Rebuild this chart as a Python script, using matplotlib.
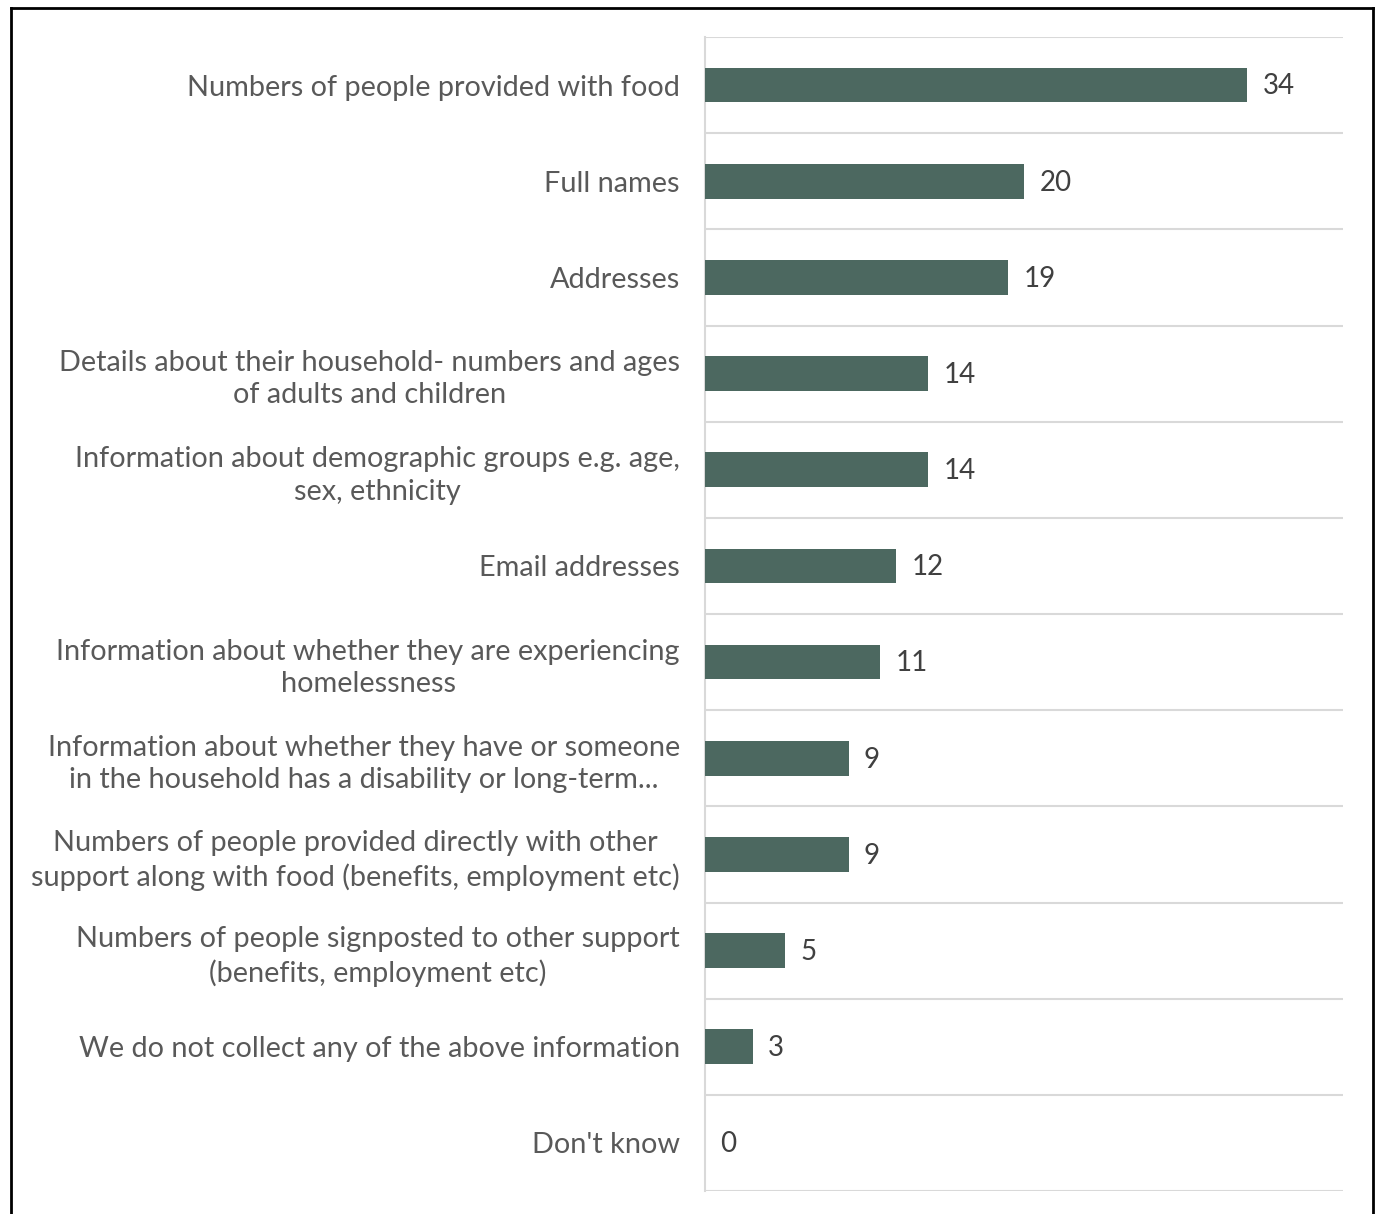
import matplotlib
matplotlib.use("Agg")
import matplotlib.pyplot as plt
from matplotlib.lines import Line2D

categories = [
    "Numbers of people provided with food",
    "Full names",
    "Addresses",
    "Details about their household- numbers and ages\nof adults and children",
    "Information about demographic groups e.g. age,\nsex, ethnicity",
    "Email addresses",
    "Information about whether they are experiencing\nhomelessness",
    "Information about whether they have or someone\nin the household has a disability or long-term...",
    "Numbers of people provided directly with other\nsupport along with food (benefits, employment etc)",
    "Numbers of people signposted to other support\n(benefits, employment etc)",
    "We do not collect any of the above information",
    "Don't know",
]
values = [34, 20, 19, 14, 14, 12, 11, 9, 9, 5, 3, 0]

plt.rcParams['font.family'] = ['Lato', 'DejaVu Sans']

fig = plt.figure(figsize=(13.81, 12.14), dpi=100)
ax = fig.add_axes([705/1381, 1 - 1191/1214, (1343-705)/1381, (1191-37)/1214])

n = len(categories)
ypos = list(range(n))
ax.barh(ypos, values, height=0.36, color="#4c6860", zorder=3)
ax.set_ylim(n - 0.5, -0.5)
ax.set_xlim(0, 40)

# separators between categories
for i in range(n + 1):
    ax.axhline(i - 0.5, color="#d9d9d9", lw=1.5, zorder=1)

ax.set_yticks(ypos)
ax.set_yticklabels(categories, fontsize=20.8, color="#595959")
for lab in ax.get_yticklabels():
    lab.set_multialignment('center')
    lab.set_linespacing(1.3)
ax.tick_params(axis='y', length=0, pad=18)
ax.set_xticks([])
for s in ["top", "right", "bottom"]:
    ax.spines[s].set_visible(False)
ax.spines["left"].set_color("#d9d9d9")
ax.spines["left"].set_linewidth(1.5)

for y, v in zip(ypos, values):
    ax.annotate(str(v), (v, y), xytext=(11, -1), textcoords="offset points",
                va="center", ha="left", fontsize=20, color="#404040")

# outer border (bottom edge cut off)
W, H = 1381, 1214
fig.add_artist(Line2D([11/W, 11/W], [0, 1 - 8/H], transform=fig.transFigure, color="black", lw=2))
fig.add_artist(Line2D([11/W, 1373/W], [1 - 8/H, 1 - 8/H], transform=fig.transFigure, color="black", lw=2))
fig.add_artist(Line2D([1373/W, 1373/W], [0, 1 - 8/H], transform=fig.transFigure, color="black", lw=2))

fig.savefig("out.png", dpi=100)
